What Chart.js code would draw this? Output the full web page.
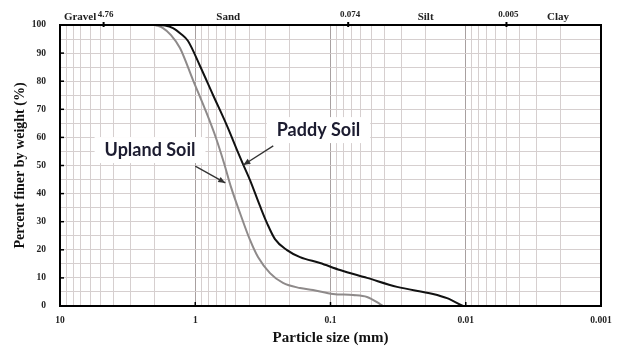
<!DOCTYPE html>
<html><head><meta charset="utf-8">
<script src="https://cdn.jsdelivr.net/npm/chart.js@4"></script>
<style>html,body{margin:0;padding:0;background:#fff}#wrap{width:620px;height:347px;position:relative}</style>
</head><body><div id="wrap"><canvas id="c" width="620" height="347"></canvas></div>
<script>
// ---- data ----
const paddySize = [1.98, 1.674, 1.46, 1.275, 1.131, 0.922, 0.739, 0.582, 0.491, 0.4436, 0.3937, 0.3322, 0.2947, 0.2573, 0.2097, 0.168, 0.1196, 0.0851, 0.0537, 0.0322, 0.01746, 0.01376, 0.01048];
const paddyPct  = [100, 99.8, 98.9, 96.8, 94.3, 85.4, 75.1, 64.1, 55.5, 50.5, 44.8, 35.6, 29.5, 23.8, 19.9, 17.4, 15.3, 12.8, 10.0, 6.8, 4.3, 2.8, 0];
const uplandSize = [1.98, 1.731, 1.511, 1.297, 1.039, 0.847, 0.7025, 0.6131, 0.5439, 0.4668, 0.3937, 0.3436, 0.2802, 0.2245, 0.168, 0.1347, 0.0958, 0.0682, 0.0537, 0.0431, 0.0409];
const uplandPct  = [100, 98.9, 96.4, 91.8, 80.4, 70.1, 59.8, 50.9, 42.3, 33.1, 23.5, 17.4, 11.7, 8.2, 6.4, 5.7, 4.3, 3.9, 3.2, 0.7, 0];

const xTickValues = [10, 1, 0.1, 0.01, 0.001];
const xTickLabels = ['10', '1', '0.1', '0.01', '0.001'];
const yTickLabels = ['0','10','20','30','40','50','60','70','80','90','100'];

const boundarySizes  = [4.76, 0.074, 0.005];
const boundaryLabels = ['4.76', '0.074', '0.005'];
const classNames     = ['Gravel', 'Sand', 'Silt', 'Clay'];
const classAt        = [7.1, 0.57, 0.0198, 0.00208];

const seriesNames = ['Paddy Soil', 'Upland Soil'];
const labelAt  = [[0.1227, 62.6], [2.16, 55.5]];
const arrowFrom = [[0.265, 57.0], [1.0, 49.8]];
const arrowTo   = [[0.441, 50.2], [0.5995, 43.8]];

const xTitle = 'Particle size (mm)';
const yTitle = 'Percent finer by weight (%)';

// ---- grid values for log paper ----
const xGrid = [];
for (let e = -3; e <= 0; e++) for (let m = 1; m <= 9; m++) xGrid.push(+(m * Math.pow(10, e)).toPrecision(6));
xGrid.push(10);
const yGrid = [];
for (let v = 0; v <= 100; v += 5) yGrid.push(v);

const isDecade = v => Math.abs(Math.log10(v) - Math.round(Math.log10(v))) < 1e-6;
const serif = "'Liberation Serif', 'Times New Roman', serif";

const extras = {
  id: 'extras',
  afterDraw(chart) {
    const ctx = chart.ctx, xs = chart.scales.x, ys = chart.scales.y, a = chart.chartArea;
    ctx.save();
    ctx.strokeStyle = '#000'; ctx.lineWidth = 1.5;
    xTickValues.forEach(v => {
      const px = xs.getPixelForValue(v);
      ctx.beginPath(); ctx.moveTo(px, a.bottom); ctx.lineTo(px, a.bottom - 4); ctx.stroke();
    });
    yTickLabels.forEach(l => {
      const py = ys.getPixelForValue(+l);
      ctx.beginPath(); ctx.moveTo(a.left, py); ctx.lineTo(a.left + 4, py); ctx.stroke();
    });
    ctx.lineWidth = 2;
    boundarySizes.forEach((v, i) => {
      const px = xs.getPixelForValue(v);
      ctx.beginPath(); ctx.moveTo(px, a.top - 3); ctx.lineTo(px, a.top + 2); ctx.stroke();
      ctx.fillStyle = '#222'; ctx.font = 'bold 9px ' + serif;
      ctx.textAlign = 'center'; ctx.textBaseline = 'middle';
      ctx.fillText(boundaryLabels[i], px + 2, 15);
    });
    ctx.font = 'bold 11px ' + serif; ctx.fillStyle = '#222';
    classNames.forEach((n, i) => {
      ctx.fillText(n, xs.getPixelForValue(classAt[i]), 17);
    });
    ctx.strokeStyle = '#000'; ctx.lineWidth = 2;
    ctx.strokeRect(a.left, a.top, a.right - a.left, a.bottom - a.top);
    ctx.font = "bold 18px Lato, 'Open Sans', sans-serif";
    seriesNames.forEach((n, i) => {
      const tx = xs.getPixelForValue(labelAt[i][0]), ty = ys.getPixelForValue(labelAt[i][1]);
      const w = ctx.measureText(n).width;
      ctx.fillStyle = '#fff';
      ctx.fillRect(tx - w / 2 - 10, ty - 13, w + 20, 26);
      ctx.fillStyle = '#1c1c30'; ctx.textAlign = 'center'; ctx.textBaseline = 'middle';
      ctx.fillText(n, tx, ty);
      const x0 = xs.getPixelForValue(arrowFrom[i][0]), y0 = ys.getPixelForValue(arrowFrom[i][1]);
      const x1 = xs.getPixelForValue(arrowTo[i][0]), y1 = ys.getPixelForValue(arrowTo[i][1]);
      ctx.strokeStyle = '#333'; ctx.lineWidth = 1.3;
      ctx.beginPath(); ctx.moveTo(x0, y0); ctx.lineTo(x1, y1); ctx.stroke();
      const ang = Math.atan2(y1 - y0, x1 - x0), L = 7, H = 3;
      ctx.fillStyle = '#333';
      ctx.beginPath();
      ctx.moveTo(x1, y1);
      ctx.lineTo(x1 - L * Math.cos(ang) + H * Math.sin(ang), y1 - L * Math.sin(ang) - H * Math.cos(ang));
      ctx.lineTo(x1 - L * Math.cos(ang) - H * Math.sin(ang), y1 - L * Math.sin(ang) + H * Math.cos(ang));
      ctx.closePath(); ctx.fill();
    });
    ctx.restore();
  }
};

new Chart(document.getElementById('c'), {
  type: 'scatter',
  data: {
    datasets: [
      { label: seriesNames[0], data: paddySize.map((s, i) => ({ x: s, y: paddyPct[i] })),
        showLine: true, borderColor: '#111', borderWidth: 2, pointRadius: 0, cubicInterpolationMode: 'monotone' },
      { label: seriesNames[1], data: uplandSize.map((s, i) => ({ x: s, y: uplandPct[i] })),
        showLine: true, borderColor: '#8e8a8a', borderWidth: 2, pointRadius: 0, cubicInterpolationMode: 'monotone' }
    ]
  },
  options: {
    responsive: false, animation: false, devicePixelRatio: 1,
    layout: { padding: { top: 25, right: 19, bottom: 0, left: 0 } },
    plugins: { legend: { display: false }, tooltip: { enabled: false } },
    scales: {
      x: {
        type: 'logarithmic', reverse: true, min: 0.001, max: 10,
        afterBuildTicks: s => { s.ticks = xGrid.map(v => ({ value: v })); },
        afterFit: s => { s.height = 41; },
        ticks: {
          autoSkip: false, maxRotation: 0, padding: 9, color: '#222',
          font: { family: serif, size: 9.5, weight: 'bold' },
          callback: v => { const k = xTickValues.findIndex(t => Math.abs(t - v) / t < 1e-6); return k >= 0 ? xTickLabels[k] : ''; }
        },
        grid: { color: c => (c.tick && isDecade(c.tick.value)) ? '#a8a0a0' : '#d6cfcf', drawTicks: false, lineWidth: 1 },
        border: { display: false },
        title: { display: true, text: xTitle, color: '#111', font: { family: serif, size: 15, weight: 'bold' }, padding: { top: 0, bottom: 0 } }
      },
      y: {
        min: 0, max: 100,
        afterBuildTicks: s => { s.ticks = yGrid.map(v => ({ value: v })); },
        afterFit: s => { s.width = 60; },
        ticks: {
          autoSkip: false, padding: 14, color: '#222',
          font: { family: serif, size: 9.5, weight: 'bold' },
          callback: v => (v % 10 === 0 ? yTickLabels[v / 10] : '')
        },
        grid: { color: '#d6cfcf', drawTicks: false, lineWidth: 1 },
        border: { display: false },
        title: { display: true, text: yTitle, color: '#111', font: { family: serif, size: 14, weight: 'bold' }, padding: { top: 12, bottom: 0 } }
      }
    }
  },
  plugins: [extras]
});
</script>
</body></html>
